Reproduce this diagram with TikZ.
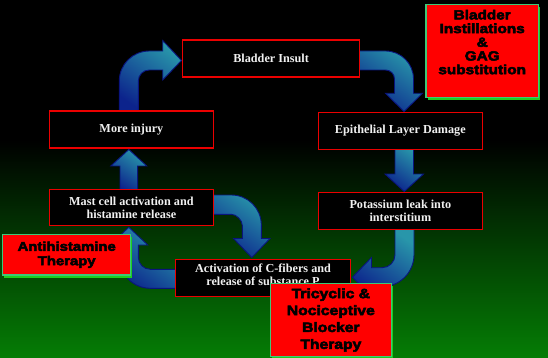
\documentclass[tikz,border=0pt]{standalone}
\usepackage{fontspec}
\setmainfont{Liberation Serif}
\newfontfamily\callfont{Liberation Sans}[FakeStretch=1.16,FakeBold=4]
\usetikzlibrary{shadows}
\definecolor{arrlight}{RGB}{40,150,170}
\definecolor{arrdark}{RGB}{12,35,140}
\definecolor{arrline}{RGB}{10,20,125}
\definecolor{boxred}{RGB}{235,0,0}
\definecolor{callred}{RGB}{255,0,0}
\definecolor{callborder}{RGB}{60,200,120}
\definecolor{callshadow}{RGB}{30,205,30}
\definecolor{bggreen}{RGB}{5,125,5}
\begin{document}
\begin{tikzpicture}[x=1pt,y=1pt,
  box/.style={draw=boxred, line width=1.1pt, fill=black, text=white!94!black,
    font=\fontsize{12.2}{13}\selectfont\bfseries, align=center, inner sep=0pt},
  bigarrow/.style={draw=arrline, line width=0.9pt, top color=arrlight,
    bottom color=arrdark, shading angle=-35},
  callout/.style={fill=callred, draw=callborder, line width=1.2pt, text=black,
    align=center, inner sep=0pt,
    drop shadow={shadow xshift=1.5pt, shadow yshift=-2.5pt, fill=callshadow, opacity=1}}]
\useasboundingbox (0,0) rectangle (548,-358);
% background
\fill[black] (0,0) rectangle (548,-140);
\shade[top color=black, bottom color=bggreen] (0,-140) rectangle (548,-358);

% arrow: more injury -> bladder insult
\path[bigarrow] (119.3,-112) -- (119.3,-81) .. controls (119.3,-64.4) and (132.7,-51) .. (149.3,-51)
  -- (162.7,-51) -- (162.7,-40.5) -- (181.5,-60.5) -- (162.7,-80) -- (162.7,-70) -- (149.3,-70)
  .. controls (143.2,-70) and (138.3,-74.9) .. (138.3,-81) -- (138.3,-112) -- cycle;
% arrow: bladder insult -> epithelial
\path[bigarrow] (358,-51) -- (385.5,-51) .. controls (401,-51) and (413.5,-63.5) .. (413.5,-79)
  -- (413.5,-93.3) -- (422.5,-93.3) -- (404,-111.5) -- (385.5,-93.3) -- (394.5,-93.3) -- (394.5,-79)
  .. controls (394.5,-74) and (390.5,-70) .. (385.5,-70) -- (358,-70) -- cycle;
% arrow: epithelial -> potassium
\path[bigarrow] (395,-148) -- (413.5,-148) -- (413.5,-174) -- (423.5,-174) -- (404.25,-191.5)
  -- (385,-174) -- (395,-174) -- cycle;
% arrow: potassium -> c-fibers
\path[bigarrow] (395,-229) -- (414,-229) -- (414,-254.7) .. controls (414,-272.4) and (399.7,-286.7) .. (382,-286.7)
  -- (371.5,-286.7) -- (371.5,-296.5) -- (352.5,-277.2) -- (371.5,-257.5) -- (371.5,-267.7) -- (382,-267.7)
  .. controls (389.2,-267.7) and (395,-261.9) .. (395,-254.7) -- cycle;
% arrow: mast cell -> c-fibers
\path[bigarrow] (212,-195) -- (231.3,-195) .. controls (247.9,-195) and (261.3,-208.4) .. (261.3,-225)
  -- (261.3,-238.5) -- (270,-238.5) -- (251.8,-257.5) -- (233.5,-238.5) -- (242.3,-238.5) -- (242.3,-225.3)
  .. controls (242.3,-220.2) and (236.4,-214.3) .. (231.3,-214.3) -- (212,-214.3) -- cycle;
% arrow: c-fibers -> mast cell
\path[bigarrow] (176,-288.3) -- (150.3,-288.3) .. controls (133.2,-288.3) and (119.3,-274.4) .. (119.3,-257.3)
  -- (119.3,-245) -- (109.8,-245) -- (128.8,-227.3) -- (147.8,-245) -- (138.3,-245) -- (138.3,-257.3)
  .. controls (138.3,-263.9) and (143.7,-269.3) .. (150.3,-269.3) -- (176,-269.3) -- cycle;
% arrow: mast cell -> more injury
\path[bigarrow] (120,-190) -- (120,-166) -- (110.8,-166) -- (128.8,-149.5) -- (146.8,-166)
  -- (137.6,-166) -- (137.6,-190) -- cycle;

% boxes
\node[box, minimum width=177.2pt, minimum height=37pt] (insult) at (271.1,-58.5) {Bladder Insult};
\node[box, minimum width=163.6pt, minimum height=37pt] (more) at (131.4,-129.5) {More injury};
\node[box, minimum width=163.9pt, minimum height=37pt] (epi) at (400.35,-130.8) {Epithelial Layer Damage};
\node[box, minimum width=163.6pt, minimum height=36.7pt] (mast) at (131.4,-207.4) {Mast cell activation and\\histamine release};
\node[box, minimum width=163.9pt, minimum height=37pt] (pot) at (400.35,-210.8) {Potassium leak into\\interstitium};
\node[box, minimum width=175.8pt, minimum height=37pt] (cfib) at (263,-278.2) {Activation of C-fibers and\\release of substance P\rule[-7.8pt]{0pt}{7.8pt}};

% callouts
\node[callout, minimum width=112.3pt, minimum height=92.6pt,
  font=\callfont\bfseries\fontsize{13.2}{13.7}\selectfont] (gag) at (482.2,-51)
  {Bladder\\Instillations\\\&\\GAG\\substitution\rule[-18pt]{0pt}{18pt}};
\node[callout, minimum width=128pt, minimum height=40.7pt,
  font=\callfont\bfseries\fontsize{12.8}{14.4}\selectfont] (anti) at (66.7,-254.7)
  {Antihistamine\\Therapy};
\node[callout, minimum width=121.3pt, minimum height=73.4pt,
  font=\callfont\bfseries\fontsize{13.5}{16.9}\selectfont] (tri) at (330.85,-320)
  {Tricyclic \&\\Nociceptive\\Blocker\\Therapy};
\end{tikzpicture}
\end{document}
